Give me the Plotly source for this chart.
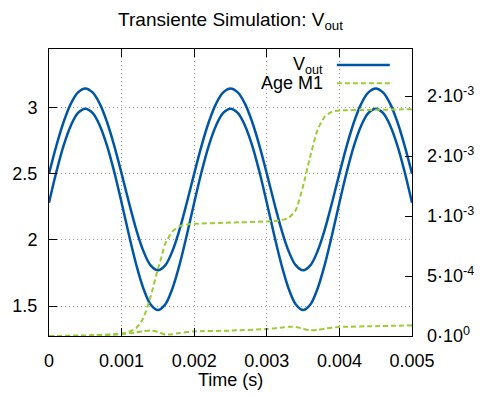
import plotly.graph_objects as go

# ---- data ----
time_s = [0.0, 0.0001, 0.0002, 0.0003, 0.0004, 0.0005, 0.0006, 0.0007, 0.0008, 0.0009,
          0.001, 0.0011, 0.0012, 0.0013, 0.0014, 0.0015, 0.0016, 0.0017, 0.0018, 0.0019,
          0.002, 0.0021, 0.0022, 0.0023, 0.0024, 0.0025, 0.0026, 0.0027, 0.0028, 0.0029,
          0.003, 0.0031, 0.0032, 0.0033, 0.0034, 0.0035, 0.0036, 0.0037, 0.0038, 0.0039,
          0.004, 0.0041, 0.0042, 0.0043, 0.0044, 0.0045, 0.0046, 0.0047, 0.0048, 0.0049,
          0.005]

vout_upper = [2.500, 2.708, 2.888, 3.027, 3.113, 3.143, 3.113, 3.027, 2.888, 2.708,
              2.500, 2.284, 2.081, 1.916, 1.807, 1.770, 1.807, 1.916, 2.081, 2.284,
              2.500, 2.708, 2.888, 3.027, 3.113, 3.143, 3.113, 3.027, 2.888, 2.708,
              2.500, 2.284, 2.081, 1.916, 1.807, 1.770, 1.807, 1.916, 2.081, 2.284,
              2.500, 2.708, 2.888, 3.027, 3.113, 3.143, 3.113, 3.027, 2.888, 2.708,
              2.500]

vout_lower = [2.280, 2.510, 2.710, 2.862, 2.958, 2.990, 2.958, 2.862, 2.710, 2.510,
              2.280, 2.040, 1.816, 1.633, 1.512, 1.470, 1.512, 1.633, 1.816, 2.040,
              2.280, 2.510, 2.710, 2.862, 2.958, 2.990, 2.958, 2.862, 2.710, 2.510,
              2.280, 2.040, 1.816, 1.633, 1.512, 1.470, 1.512, 1.633, 1.816, 2.040,
              2.280, 2.510, 2.710, 2.862, 2.958, 2.990, 2.958, 2.862, 2.710, 2.510,
              2.280]

age_t_big = [0.0, 0.0005, 0.001, 0.0011, 0.0012, 0.0013, 0.0014, 0.0015, 0.00155, 0.0016,
             0.0017, 0.0018, 0.0019, 0.002, 0.0025, 0.003, 0.0032, 0.0033, 0.0034, 0.0035,
             0.0036, 0.0037, 0.0038, 0.0039, 0.004, 0.0045, 0.005]
age_big_e3 = [0.0, 0.005, 0.02, 0.035, 0.065, 0.15, 0.33, 0.56, 0.66, 0.77,
              0.87, 0.915, 0.93, 0.935, 0.945, 0.955, 0.965, 0.985, 1.05, 1.25,
              1.5, 1.72, 1.83, 1.87, 1.88, 1.885, 1.89]

age_t_small = [0.0, 0.0005, 0.001, 0.0012, 0.0013, 0.0014, 0.0015, 0.0016, 0.0017, 0.0018,
               0.002, 0.0025, 0.003, 0.0032, 0.0033, 0.0034, 0.0035, 0.0036, 0.0037, 0.0038,
               0.004, 0.0045, 0.005]
age_small_e3 = [0.0, 0.003, 0.015, 0.03, 0.04, 0.045, 0.035, 0.012, 0.015, 0.025,
                0.038, 0.045, 0.058, 0.07, 0.078, 0.075, 0.06, 0.048, 0.05, 0.062,
                0.075, 0.082, 0.088]

x_ticks = [0, 0.001, 0.002, 0.003, 0.004, 0.005]
x_ticklabels = ["0", "0.001", "0.002", "0.003", "0.004", "0.005"]
y_ticks = [1.5, 2, 2.5, 3]
y_ticklabels = ["1.5", "2", "2.5", "3"]
y2_ticks = [0, 0.0005, 0.001, 0.0015, 0.002]
y2_ticklabels = ["0·10<sup>0</sup>", "5·10<sup>-4</sup>", "1·10<sup>-3</sup>",
                 "2·10<sup>-3</sup>", "2·10<sup>-3</sup>"]

BLUE = "#0056a6"
GREEN = "#9acd32"
FONT = "Liberation Sans, Arial, sans-serif"

fig = go.Figure()
for ys in (vout_upper, vout_lower):
    fig.add_trace(go.Scatter(x=time_s, y=ys, mode="lines", yaxis="y",
                             line=dict(color=BLUE, width=2.5, shape="spline", smoothing=1.0),
                             showlegend=False, hoverinfo="skip"))
for tt, vv in ((age_t_big, age_big_e3), (age_t_small, age_small_e3)):
    fig.add_trace(go.Scatter(x=tt, y=[v * 1e-3 for v in vv], mode="lines", yaxis="y2",
                             line=dict(color=GREEN, width=2, dash="5px,3px",
                                       shape="spline", smoothing=0.6),
                             showlegend=False, hoverinfo="skip"))

grid = dict(showgrid=True, gridcolor="#a0a0a0", gridwidth=1, griddash="1px,3px")

fig.update_layout(
    width=480, height=396,
    margin=dict(l=49, r=68, t=49, b=60, autoexpand=False),
    paper_bgcolor="white", plot_bgcolor="white",
    font=dict(family=FONT, size=18, color="black"),
    showlegend=False,
    title=dict(text="Transiente Simulation: V<sub>out</sub>", x=0.5, xref="paper",
               xanchor="center", y=1 - 19.5 / 396, yref="container", yanchor="middle",
               font=dict(size=19, family=FONT, color="black")),
    xaxis=dict(range=[0, 0.005], tickvals=x_ticks, ticktext=x_ticklabels,
               showline=True, mirror="ticks", linecolor="black", linewidth=1,
               ticks="inside", ticklen=8, tickcolor="black", zeroline=False,
               ticklabelstandoff=8, automargin=False, **grid),
    yaxis=dict(range=[1.274, 3.441], tickvals=y_ticks, ticktext=y_ticklabels,
               showline=True, mirror=True, linecolor="black", linewidth=1,
               ticks="inside", ticklen=8, tickcolor="black", zeroline=False,
               ticklabelstandoff=7, automargin=False, **grid),
    yaxis2=dict(range=[0, 0.002392], overlaying="y", side="right",
                tickvals=y2_ticks, ticktext=y2_ticklabels,
                showline=False, ticks="inside", ticklen=7, tickcolor="black",
                showgrid=False, zeroline=False, ticklabelstandoff=14, automargin=False),
)

# axis title
fig.add_annotation(text="Time (s)", x=0.5, xref="paper", y=-0.155, yref="paper",
                   xanchor="center", yanchor="middle", showarrow=False,
                   font=dict(size=18, family=FONT))

# legend (text right-aligned, sample to the right as in the reference)
leg_x_text = 0.760
leg_rows = [("V<sub>out</sub>", 0.944, dict(color=BLUE, width=2.5)),
            ("Age M1", 0.8805, dict(color=GREEN, width=2, dash="5px,3px"))]
for label, yy, ln in leg_rows:
    fig.add_annotation(text=label, x=leg_x_text, xref="paper", y=yy, yref="paper",
                       xanchor="right", yanchor="middle", showarrow=False,
                       font=dict(size=18, family=FONT))
    fig.add_shape(type="line", xref="paper", yref="paper", x0=0.793, x1=0.939,
                  y0=yy, y1=yy, line=ln, layer="above")

fig.write_html("out.html", config={"displayModeBar": False})

# remove the default page margin so the figure sits at the window's top-left corner
with open("out.html", "r", encoding="utf-8") as fh:
    html = fh.read()
html = html.replace("<head>", "<head><style>html,body{margin:0;padding:0;}</style>", 1)
with open("out.html", "w", encoding="utf-8") as fh:
    fh.write(html)
